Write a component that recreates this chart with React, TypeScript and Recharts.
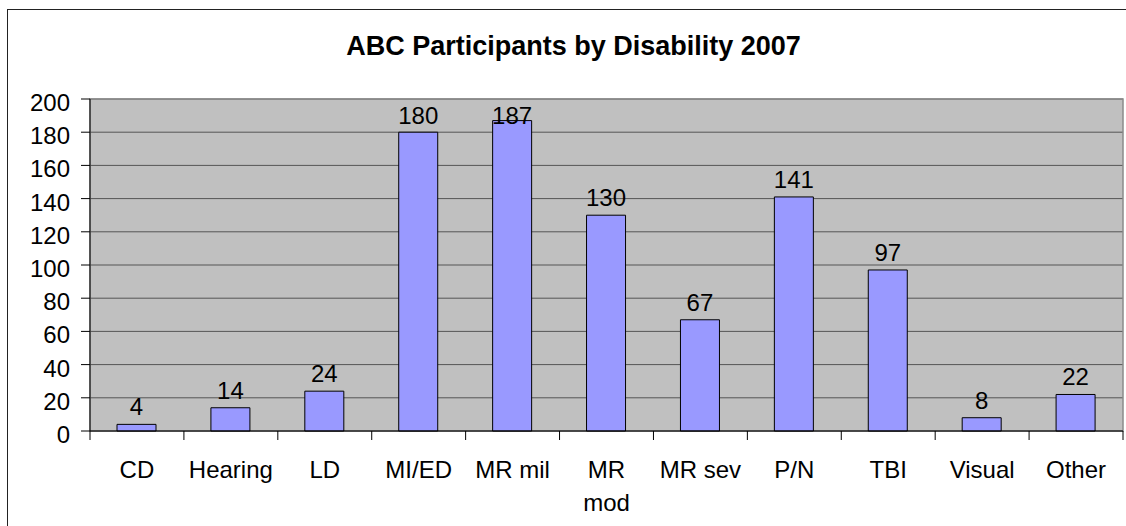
import React from 'react';
import {
  BarChart,
  Bar,
  XAxis,
  YAxis,
  CartesianGrid,
  ReferenceArea,
  LabelList,
} from 'recharts';

// Participant counts per disability category
const categories = ['CD', 'Hearing', 'LD', 'MI/ED', 'MR mil', 'MR mod', 'MR sev', 'P/N', 'TBI', 'Visual', 'Other'];
const participants = [4, 14, 24, 180, 187, 130, 67, 141, 97, 8, 22];
const yTicks = [0, 20, 40, 60, 80, 100, 120, 140, 160, 180, 200];

const chartData = categories.map((name, i) => ({ name, value: participants[i] }));

const FONT = "'Liberation Sans', Arial, sans-serif";
const CHART_W = 1118;
const CHART_H = 516;
const MARGIN = { top: 89, right: 3, bottom: 15, left: 22 };

// Category labels, with wrapping for long names and boundary tick marks
const CategoryTick = (props: any) => {
  const { x, y, payload, index } = props;
  const half = payload?.offset || (CHART_W - MARGIN.left - 60 - MARGIN.right) / categories.length / 2;
  const label: string = String(payload.value);
  const lines = label === 'MR mod' ? ['MR', 'mod'] : [label];
  return (
    <g>
      {index === 0 && <line x1={x - half} x2={x - half} y1={y} y2={y + 9} stroke="#000" />}
      <line x1={x + half} x2={x + half} y1={y} y2={y + 9} stroke="#000" />
      <text x={x} y={y + 47} textAnchor="middle" fontFamily={FONT} fontSize={24} fill="#000">
        {lines.map((l, i) => (
          <tspan key={i} x={x} dy={i === 0 ? 0 : 33}>
            {l}
          </tspan>
        ))}
      </text>
    </g>
  );
};

const ValueTick = (props: any) => {
  const { x, y, payload } = props;
  return (
    <text x={x} y={y + 12} textAnchor="end" fontFamily={FONT} fontSize={24} fill="#000">
      {payload.value}
    </text>
  );
};

// Value above each bar, kept inside the plot area near the top
const renderValueLabel = (props: any) => {
  const vb = props.viewBox ?? props;
  const { x, y, width } = vb;
  const baseline = Math.max(y - 9, MARGIN.top + 25);
  return (
    <text x={x + width / 2} y={baseline} textAnchor="middle" fontFamily={FONT} fontSize={24} fill="#000">
      {props.value}
    </text>
  );
};

export default function App() {
  return (
    <div
      style={{
        position: 'fixed',
        left: 7,
        top: 9,
        width: 1119,
        height: 517,
        borderLeft: '1px solid #222',
        borderTop: '1px solid #222',
        background: '#fff',
      }}
    >
      <div
        style={{
          position: 'absolute',
          left: 0,
          top: 23,
          width: 1131,
          textAlign: 'center',
          fontFamily: FONT,
          fontWeight: 'bold',
          fontSize: 27,
          lineHeight: '27px',
          color: '#000',
          whiteSpace: 'nowrap',
        }}
      >
        ABC Participants by Disability 2007
      </div>
      <BarChart width={CHART_W} height={CHART_H} data={chartData} margin={MARGIN}>
        <CartesianGrid vertical={false} stroke="#555" fill="#c0c0c0" fillOpacity={1} />
        <ReferenceArea y1={0} y2={200} fill="none" stroke="#8a8a8a" strokeWidth={1.5} ifOverflow="visible" />
        <XAxis
          dataKey="name"
          interval={0}
          height={80}
          tickSize={0}
          tickMargin={0}
          tickLine={false}
          axisLine={{ stroke: '#000', strokeWidth: 1 }}
          tick={<CategoryTick />}
        />
        <YAxis
          domain={[0, 200]}
          ticks={yTicks}
          width={60}
          tickSize={9}
          tickMargin={11}
          tickLine={{ stroke: '#000' }}
          axisLine={{ stroke: '#000', strokeWidth: 1 }}
          tick={<ValueTick />}
        />
        <Bar dataKey="value" fill="#9999ff" stroke="#000" strokeWidth={1} barSize={39} isAnimationActive={false}>
          <LabelList dataKey="value" content={renderValueLabel} />
        </Bar>
      </BarChart>
    </div>
  );
}
